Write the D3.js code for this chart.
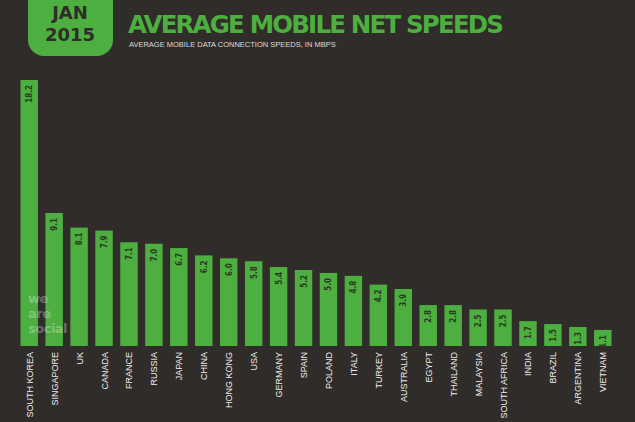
<!DOCTYPE html>
<html><head><meta charset="utf-8">
<script src="https://cdn.jsdelivr.net/npm/d3@7"></script>
<style>body{margin:0;background:#302c29}</style>
</head><body>
<svg id="chart"></svg>
<script>
// Data
const countries = ['SOUTH KOREA','SINGAPORE','UK','CANADA','FRANCE','RUSSIA','JAPAN','CHINA','HONG KONG','USA','GERMANY','SPAIN','POLAND','ITALY','TURKEY','AUSTRALIA','EGYPT','THAILAND','MALAYSIA','SOUTH AFRICA','INDIA','BRAZIL','ARGENTINA','VIETNAM'];
const speeds = [18.2,9.1,8.1,7.9,7.1,7.0,6.7,6.2,6.0,5.8,5.4,5.2,5.0,4.8,4.2,3.9,2.8,2.8,2.5,2.5,1.7,1.5,1.3,1.1];

const W = 635, H = 422, green = '#4caf3f';
const svg = d3.select('#chart').attr('width', W).attr('height', H);
svg.append('rect').attr('width', W).attr('height', H).attr('fill', '#302c29');

// Header badge
svg.append('rect').attr('x', 28).attr('y', -20).attr('width', 85).attr('height', 76).attr('rx', 16).attr('fill', green);
svg.append('text').attr('x', 70).attr('y', 19).attr('text-anchor', 'middle')
  .attr('font-family', 'DejaVu Sans').attr('font-weight', 900).attr('font-size', 18).attr('fill', '#302c29').text('JAN');
svg.append('text').attr('x', 70).attr('y', 41).attr('text-anchor', 'middle')
  .attr('font-family', 'DejaVu Sans').attr('font-weight', 900).attr('font-size', 18).attr('fill', '#302c29').text('2015');
svg.append('text').attr('x', 128).attr('y', 33)
  .attr('font-family', 'DejaVu Sans').attr('font-weight', 900).attr('font-size', 24.5).attr('fill', green).attr('textLength', 376).text('AVERAGE MOBILE NET SPEEDS');
svg.append('text').attr('x', 129).attr('y', 47)
  .attr('font-family', 'Liberation Sans').attr('font-size', 7.5).attr('fill', '#ddd').text('AVERAGE MOBILE DATA CONNECTION SPEEDS, IN MBPS');

// Scales
const x = d3.scaleBand().domain(countries).range([18, 614]).paddingInner(0.3).paddingOuter(0.1);
const y = d3.scaleLinear().domain([0, 18.2]).range([346, 80]);

const g = svg.append('g');
g.selectAll('rect.bar').data(countries).join('rect').attr('class', 'bar')
  .attr('x', d => x(d)).attr('width', x.bandwidth())
  .attr('y', (d, i) => y(speeds[i])).attr('height', (d, i) => y(0) - y(speeds[i]))
  .attr('fill', green);

g.selectAll('text.val').data(countries).join('text').attr('class', 'val')
  .attr('transform', (d, i) => `translate(${x(d) + x.bandwidth() / 2 + 3},${y(speeds[i]) + 5}) rotate(-90)`)
  .attr('text-anchor', 'end').attr('font-family', 'DejaVu Sans Condensed').attr('font-weight', 'bold')
  .attr('font-size', 8).attr('fill', '#2a3a22').text((d, i) => speeds[i].toFixed(1));

g.selectAll('text.lab').data(countries).join('text').attr('class', 'lab')
  .attr('transform', d => `translate(${x(d) + x.bandwidth() / 2 + 3.5},352) rotate(-90)`)
  .attr('text-anchor', 'end').attr('font-family', 'Liberation Sans Narrow, Liberation Sans')
  .attr('font-size', 9).attr('fill', '#eee').text(d => d);

// Watermark
[['we', 303], ['are', 318], ['social', 333]].forEach(([t, yy]) =>
  svg.append('text').attr('x', 28).attr('y', yy).attr('font-family', 'DejaVu Sans').attr('font-weight', 'bold')
    .attr('font-size', 13).attr('fill', 'rgba(255,255,255,0.3)').attr('letter-spacing', -0.5).text(t));
</script>
</body></html>
